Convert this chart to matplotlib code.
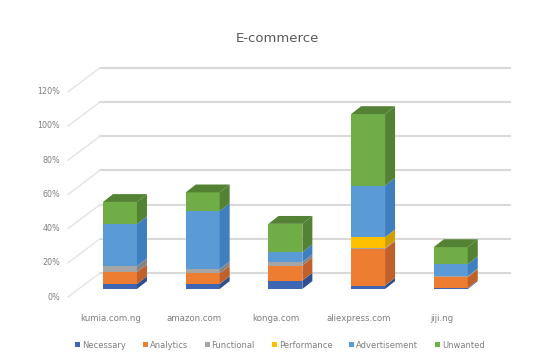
import numpy as np
import matplotlib.pyplot as plt
from matplotlib.patches import Polygon, Patch

sites = ['kumia.com.ng', 'amazon.com', 'konga.com', 'aliexpress.com', 'jiji.ng']
series = ['Necessary', 'Analytics', 'Functional', 'Performance', 'Advertisement', 'Unwanted']
necessary = [2.9, 2.9, 4.9, 2.0, 0.5]
analytics = [7.0, 6.2, 8.8, 21.4, 6.5]
functional = [3.5, 2.5, 2.0, 0.5, 0.5]
performance = [0.0, 0.0, 0.0, 6.3, 0.0]
advertisement = [24.5, 34.0, 5.8, 30.2, 7.0]
unwanted = [13.0, 10.9, 16.6, 41.9, 10.0]
yticks = [0, 20, 40, 60, 80, 100, 120]

values = [necessary, analytics, functional, performance, advertisement, unwanted]
front = ['#3d66b5', '#ed7d31', '#a5a5a5', '#ffc000', '#5b9bd5', '#70ad47']
side = ['#2f4f8f', '#c0602a', '#858585', '#d29f00', '#3f7fbf', '#548235']

W, H = 538, 361
fig = plt.figure(figsize=(W / 100, H / 100), dpi=100)
ax = fig.add_axes([0, 0, 1, 1])
ax.axis('off')

ppx = 1.71          # pixels per percent
xs = 82.7           # pixels per category
ax.set_xlim(-120 / xs, (W - 120) / xs)
ax.set_ylim(-72 / ppx, (H - 72) / ppx)

back = 16 / ppx     # back wall offset
frontoff = -8 / ppx
x0, x1, xd = -0.242, 4.716, -0.629
grid_c = '#d9d9d9'
for v in yticks:
    ax.plot([x0, x1], [v + back, v + back], color=grid_c, lw=1.5, zorder=1)
    ax.plot([xd, x0], [v + frontoff, v + back], color='#e3e3e3', lw=1.0, zorder=1)
    ax.text(-0.725, v + frontoff, f'{v}%', ha='right', va='center', fontsize=5.8, color='#7f7f7f')

w = 0.41
dx, dy = 0.121, 4.6
x = np.arange(len(sites))
bottom = np.zeros(len(sites))
for vals, fc, sc in zip(values, front, side):
    vals = np.array(vals)
    ax.bar(x, vals, width=w, bottom=bottom, color=fc, zorder=3, linewidth=0)
    for i in range(len(sites)):
        if vals[i] <= 0:
            continue
        r = x[i] + w / 2
        b, t = bottom[i], bottom[i] + vals[i]
        ax.add_patch(Polygon([(r, b), (r + dx, b + dy), (r + dx, t + dy), (r, t)],
                             closed=True, facecolor=sc, edgecolor='none', zorder=3))
    bottom = bottom + vals

# top faces
for i in range(len(sites)):
    top_i = max(k for k in range(len(values)) if values[k][i] > 0)
    l, r, t = x[i] - w / 2, x[i] + w / 2, bottom[i]
    ax.add_patch(Polygon([(l, t), (l + dx, t + dy), (r + dx, t + dy), (r, t)],
                         closed=True, facecolor=side[top_i], edgecolor='none', zorder=4))

for i, s in enumerate(sites):
    ax.text(x[i] - 0.11, -17, s, ha='center', va='center', fontsize=6.2, color='#7f7f7f')

fig.text(0.515, 0.893, 'E-commerce', ha='center', va='center', fontsize=9.5, color='#595959')

handles = [Patch(facecolor=c, label=s) for c, s in zip(front, series)]
fig.legend(handles=handles, loc='center', bbox_to_anchor=(0.52, 0.044), ncol=6, frameon=False,
           fontsize=6, handlelength=0.6, handleheight=0.6, handletextpad=0.25, columnspacing=2.0,
           labelcolor='#7f7f7f')

fig.savefig('out.png', dpi=100)
